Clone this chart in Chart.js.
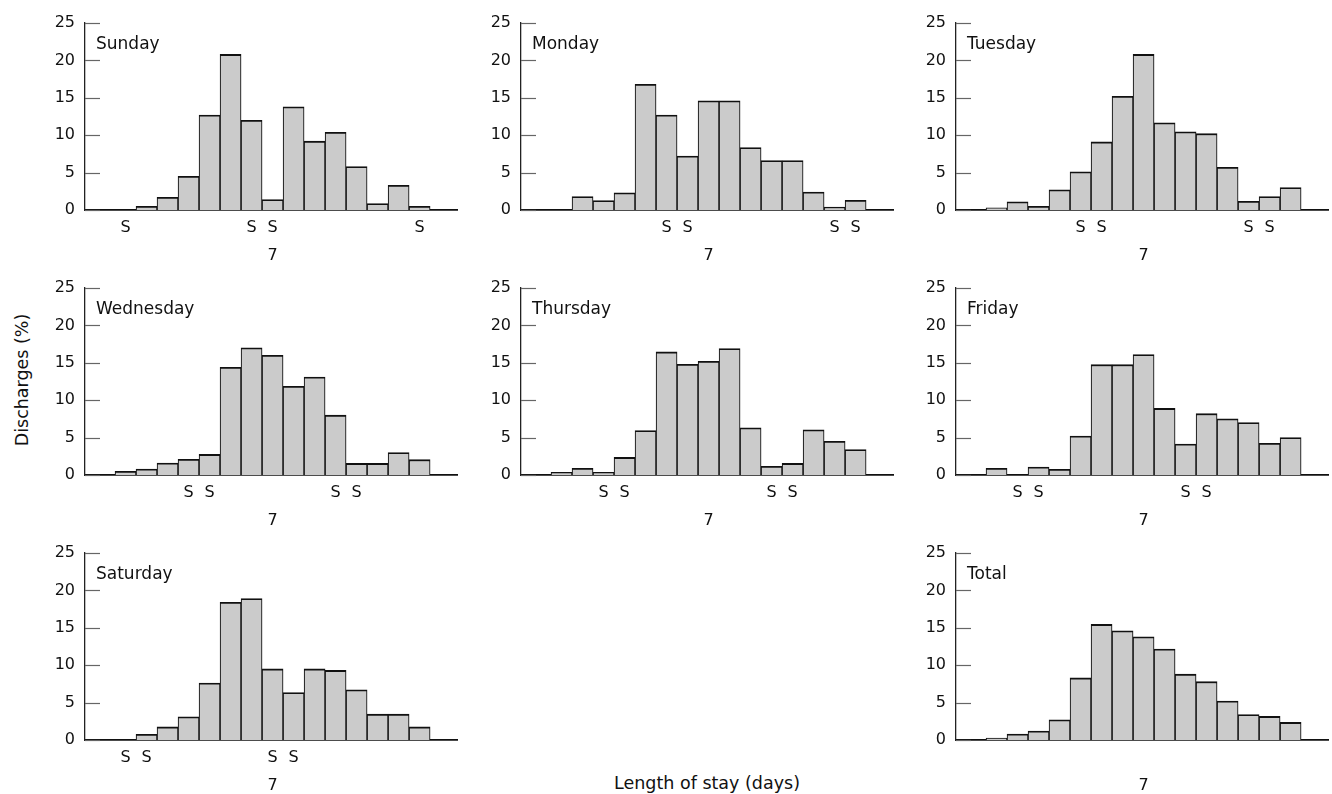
<!DOCTYPE html>
<html><head><meta charset="utf-8">
<script src="https://cdn.jsdelivr.net/npm/chart.js@4.4.1/dist/chart.umd.min.js"></script>
<style>
html,body{margin:0;padding:0;background:#fff;}
body{width:1332px;height:794px;position:relative;overflow:hidden;font-family:'DejaVu Sans',sans-serif;color:#111;}
canvas{position:absolute;}
#ytitle{position:absolute;left:22px;top:380px;transform:translate(-50%,-50%) rotate(-90deg);font-size:17.5px;white-space:nowrap;}
#xtitle{position:absolute;left:707px;top:783px;transform:translate(-50%,-50%);font-size:17.5px;white-space:nowrap;}
</style></head><body>
<div id="ytitle">Discharges (%)</div>
<div id="xtitle">Length of stay (days)</div>
<canvas id="c0"></canvas><canvas id="c1"></canvas><canvas id="c2"></canvas>
<canvas id="c3"></canvas><canvas id="c4"></canvas><canvas id="c5"></canvas>
<canvas id="c6"></canvas><canvas id="c7"></canvas>
<script>
// ---- data ----
const days = [0,1,2,3,4,5,6,7,8,9,10,11,12,13,14];
const yTicks = [0,5,10,15,20,25];
const panelNames = ['Sunday','Monday','Tuesday','Wednesday','Thursday','Friday','Saturday','Total'];
const sunday    = [0, 0.5, 1.7, 4.5, 12.7, 20.8, 12.0, 1.4, 13.8, 9.2, 10.4, 5.8, 0.85, 3.3, 0.5];
const monday    = [0, 1.8, 1.25, 2.3, 16.8, 12.7, 7.2, 14.6, 14.6, 8.35, 6.6, 6.6, 2.4, 0.4, 1.3];
const tuesday   = [0.3, 1.1, 0.5, 2.7, 5.1, 9.1, 15.2, 20.8, 11.65, 10.45, 10.2, 5.7, 1.15, 1.8, 3.0];
const wednesday = [0.5, 0.8, 1.6, 2.1, 2.75, 14.4, 17.0, 16.0, 11.85, 13.1, 8.0, 1.55, 1.55, 3.0, 2.05];
const thursday  = [0.35, 0.9, 0.35, 2.35, 5.95, 16.45, 14.8, 15.2, 16.9, 6.3, 1.15, 1.55, 6.05, 4.5, 3.4];
const friday    = [0.9, 0, 1.05, 0.75, 5.2, 14.75, 14.75, 16.1, 8.9, 4.15, 8.2, 7.5, 7.0, 4.25, 5.0];
const saturday  = [0, 0.75, 1.75, 3.1, 7.6, 18.4, 18.9, 9.5, 6.35, 9.5, 9.3, 6.7, 3.45, 3.45, 1.75];
const total     = [0.25, 0.8, 1.2, 2.7, 8.3, 15.45, 14.6, 13.8, 12.15, 8.8, 7.8, 5.2, 3.4, 3.15, 2.35];
// days marked "S" (weekend) under each panel
const sundayS    = [0, 6, 7, 14];
const mondayS    = [5, 6, 13, 14];
const tuesdayS   = [4, 5, 12, 13];
const wednesdayS = [3, 4, 10, 11];
const thursdayS  = [2, 3, 10, 11];
const fridayS    = [1, 2, 9, 10];
const saturdayS  = [0, 1, 7, 8];
const totalS     = [];
const markedDay = 7;
const markedLabel = '7';

const series = [sunday, monday, tuesday, wednesday, thursday, friday, saturday, total];
const weekendMarks = [sundayS, mondayS, tuesdayS, wednesdayS, thursdayS, fridayS, saturdayS, totalS];

// ---- layout ----
const colAxisX = [85, 521, 956];
const rowTopY = [23.4, 287.7, 552.7];
const slots = [[0,0],[0,1],[0,2],[1,0],[1,1],[1,2],[2,0],[2,2]];
const Y_AXIS_W = 50, PAD_TOP = 24, X_AXIS_H = 62, PLOT_W = 372, PLOT_H = 187, PAD_R = 4;

Chart.defaults.font.family = "'DejaVu Sans', sans-serif";
Chart.defaults.font.size = 16;
Chart.defaults.color = '#111';

const panelDecor = {
  id: 'panelDecor',
  beforeDatasetsDraw(chart) {
    // inward tick marks on the y axis
    const ctx = chart.ctx, a = chart.chartArea, ys = chart.scales.y;
    ctx.save();
    ctx.strokeStyle = '#666';
    ctx.lineWidth = 1.2;
    ys.ticks.forEach(t => {
      const y = Math.round(ys.getPixelForValue(t.value)) + 0.5;
      ctx.beginPath();
      ctx.moveTo(a.left, y);
      ctx.lineTo(a.left + 15, y);
      ctx.stroke();
    });
    ctx.restore();
  },
  afterDraw(chart, args, opts) {
    const ctx = chart.ctx, a = chart.chartArea;
    ctx.save();
    ctx.font = "17px 'DejaVu Sans', sans-serif";
    ctx.fillStyle = '#111';
    ctx.textBaseline = 'alphabetic';
    ctx.textAlign = 'left';
    ctx.fillText(opts.text, a.left + 11, a.top + 26);
    ctx.restore();
  }
};

series.forEach((vals, i) => {
  const [r, c] = slots[i];
  const cv = document.getElementById('c' + i);
  cv.width = Y_AXIS_W + PLOT_W + PAD_R;
  cv.height = PAD_TOP + PLOT_H + X_AXIS_H;
  cv.style.left = (colAxisX[c] - Y_AXIS_W) + 'px';
  cv.style.top = (rowTopY[r] - PAD_TOP) + 'px';
  const marks = weekendMarks[i];
  new Chart(cv, {
    type: 'bar',
    data: {
      datasets: [{
        data: days.map((d, k) => ({x: d, y: vals[k]})),
        backgroundColor: '#cbcbcb',
        borderColor: '#111',
        borderWidth: {top: 1.8, left: 1.1, right: 1.1, bottom: 0},
        borderSkipped: false,
        barPercentage: 1,
        categoryPercentage: 1
      }]
    },
    options: {
      responsive: false,
      animation: false,
      events: [],
      layout: {padding: {top: PAD_TOP, right: PAD_R, left: 0, bottom: 0}},
      plugins: {legend: {display: false}, tooltip: {enabled: false}, title: {display: false},
                panelDecor: {text: panelNames[i]}},
      scales: {
        x: {
          type: 'linear',
          offset: false,
          min: -1.93, max: 15.78,
          afterBuildTicks: s => { s.ticks = days.map(d => ({value: d})); },
          afterFit: s => { s.height = X_AXIS_H; },
          grid: {display: false, drawTicks: false, offset: false},
          border: {display: true, color: '#111', width: 1.8},
          ticks: {
            autoSkip: false, maxRotation: 0, minRotation: 0, padding: 4,
            font: {size: 16, lineHeight: 1.75},
            callback: v => [marks.includes(v) ? 'S' : '', (v === markedDay) ? markedLabel : '']
          }
        },
        y: {
          min: 0, max: 25,
          afterBuildTicks: s => { s.ticks = yTicks.map(v => ({value: v})); },
          afterFit: s => { s.width = Y_AXIS_W; },
          grid: {display: false, drawTicks: false},
          border: {display: true, color: '#222', width: 1.3},
          ticks: {padding: 10, font: {size: 16}}
        }
      }
    },
    plugins: [panelDecor]
  });
});
</script>
</body></html>
